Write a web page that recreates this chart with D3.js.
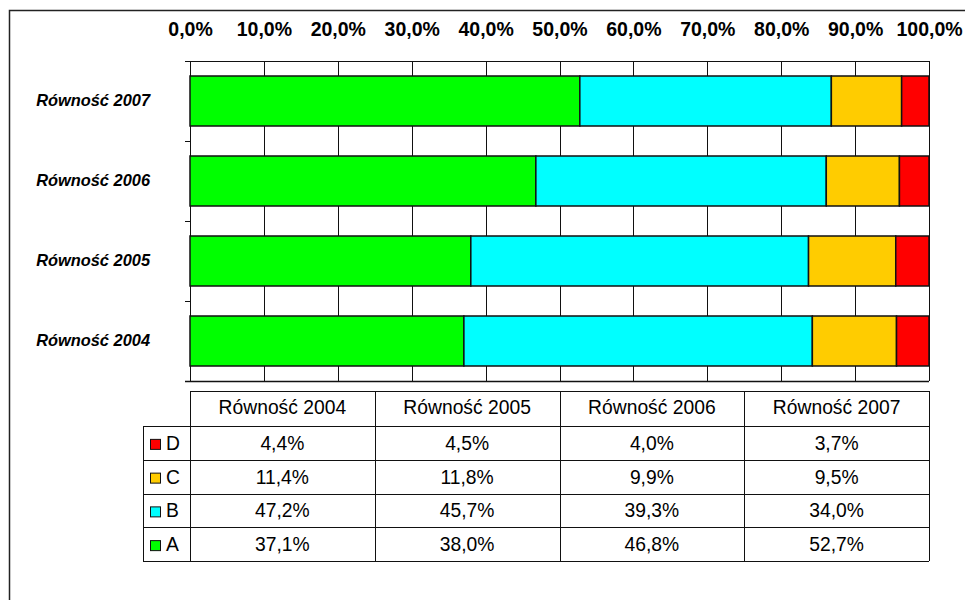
<!DOCTYPE html>
<html>
<head>
<meta charset="utf-8">
<script src="https://cdn.jsdelivr.net/npm/d3@7"></script>
<style>
  body { margin: 0; background: #fff; }
  svg text { font-family: "Liberation Sans", Arial, sans-serif; }
  .axis-top text { font-weight: bold; font-size: 19.5px; fill: #000; }
  .cat-label text { font-weight: bold; font-style: italic; font-size: 16.4px; fill: #000; }
  .table-text { font-size: 19.3px; fill: #000; }
</style>
</head>
<body>
<div class="chart-container"></div>
<script>
// data (percent)
const categories = ["Równość 2004", "Równość 2005", "Równość 2006", "Równość 2007"];
const seriesNames = ["A", "B", "C", "D"];
const seriesA = [37.1, 38.0, 46.8, 52.7];
const seriesB = [47.2, 45.7, 39.3, 34.0];
const seriesC = [11.4, 11.8, 9.9, 9.5];
const seriesD = [4.4, 4.5, 4.0, 3.7];
const colors = {A: "#00ff00", B: "#00ffff", C: "#ffcc00", D: "#ff0000"};
const xTicks = [0, 0.1, 0.2, 0.3, 0.4, 0.5, 0.6, 0.7, 0.8, 0.9, 1];

const rows = categories.map((c, i) => ({
  cat: c, A: seriesA[i], B: seriesB[i], C: seriesC[i], D: seriesD[i]
}));

const pl = d3.formatLocale({decimal: ",", thousands: " ", grouping: [3], currency: ["", " zł"]});
const fmtAxis = pl.format(".1%");
const fmtCell = v => pl.format(".1f")(v) + "%";

const W = 965, H = 600;
const plot = {left: 190, right: 929, top: 61, bottom: 381};
const table = {headTop: 391, headBottom: 426, bottom: 561, legendLeft: 143};

const svg = d3.select(".chart-container").append("svg")
    .attr("width", W)
    .attr("height", H);

// outer frame (runs off the right and bottom edge)
svg.append("rect")
    .attr("x", 9.5).attr("y", 10.5)
    .attr("width", 1000).attr("height", 1000)
    .attr("fill", "none")
    .attr("stroke", "#222")
    .attr("stroke-width", 1.5);

const x = d3.scaleLinear().domain([0, 1]).range([plot.left, plot.right]);
const y = d3.scaleBand()
    .domain(categories.slice().reverse())
    .range([plot.top, plot.bottom])
    .paddingInner(0.375)
    .paddingOuter(0.1875);

// vertical grid
svg.append("g")
  .selectAll("line")
  .data(xTicks)
  .enter().append("line")
    .attr("x1", d => Math.round(x(d)) + 0.5)
    .attr("x2", d => Math.round(x(d)) + 0.5)
    .attr("y1", plot.top)
    .attr("y2", plot.bottom)
    .attr("stroke", "#111")
    .attr("stroke-width", 1);

// top line / category separators with small ticks
const bounds = categories.map((c, i) => plot.top + i * y.step()).concat([plot.bottom]);
svg.append("g")
  .selectAll("line")
  .data(bounds)
  .enter().append("line")
    .attr("x1", plot.left - 5)
    .attr("x2", (d, i) => (i === 0 || i === bounds.length - 1) ? plot.right : plot.left)
    .attr("y1", d => Math.round(d) + 0.5)
    .attr("y2", d => Math.round(d) + 0.5)
    .attr("stroke", "#111")
    .attr("stroke-width", (d, i) => (i === bounds.length - 1) ? 1.5 : 1);

// 100% stacked bars
const stack = d3.stack().keys(seriesNames).offset(d3.stackOffsetExpand);
const layers = stack(rows);

svg.append("g")
  .selectAll("g")
  .data(layers)
  .enter().append("g")
    .attr("fill", d => colors[d.key])
  .selectAll("rect")
  .data(d => d)
  .enter().append("rect")
    .attr("x", d => x(d[0]))
    .attr("y", d => y(d.data.cat))
    .attr("width", d => x(d[1]) - x(d[0]))
    .attr("height", y.bandwidth())
    .attr("stroke", "#111")
    .attr("stroke-width", 1.5);

// top axis labels
const xAxis = svg.append("g")
    .attr("class", "axis-top")
    .attr("transform", "translate(0,36)")
    .call(d3.axisTop(x).tickValues(xTicks).tickFormat(fmtAxis).tickSize(0).tickPadding(0));
xAxis.select(".domain").remove();

// category labels
const yAxis = svg.append("g")
    .attr("class", "cat-label")
    .attr("transform", "translate(" + plot.left + ",0)")
    .call(d3.axisLeft(y).tickSize(0).tickPadding(40));
yAxis.select(".domain").remove();

// data table
const tx = d3.scaleBand().domain(categories).range([plot.left, plot.right]);
const tableRows = ["D", "C", "B", "A"];
const ty = d3.scaleBand().domain(tableRows).range([table.headBottom, table.bottom]);
const seriesValues = {A: seriesA, B: seriesB, C: seriesC, D: seriesD};

const tg = svg.append("g")
    .attr("stroke", "#111")
    .attr("stroke-width", 1)
    .attr("shape-rendering", "crispEdges");

// horizontal lines
tg.append("line")
    .attr("x1", plot.left).attr("x2", plot.right)
    .attr("y1", table.headTop + 0.5).attr("y2", table.headTop + 0.5);
tg.selectAll(".hrow")
  .data(tableRows.map(r => ty(r)).concat([table.bottom]))
  .enter().append("line")
    .attr("x1", table.legendLeft).attr("x2", plot.right)
    .attr("y1", d => Math.round(d) + 0.5)
    .attr("y2", d => Math.round(d) + 0.5);

// vertical lines
tg.append("line")
    .attr("x1", table.legendLeft + 0.5).attr("x2", table.legendLeft + 0.5)
    .attr("y1", table.headBottom).attr("y2", table.bottom);
tg.selectAll(".vcol")
  .data(categories.map(c => tx(c)).concat([plot.right]))
  .enter().append("line")
    .attr("x1", d => Math.round(d) + 0.5)
    .attr("x2", d => Math.round(d) + 0.5)
    .attr("y1", table.headTop)
    .attr("y2", table.bottom);

// header texts
svg.append("g")
  .selectAll("text")
  .data(categories)
  .enter().append("text")
    .attr("class", "table-text")
    .attr("x", d => tx(d) + tx.bandwidth() / 2)
    .attr("y", (table.headTop + table.headBottom) / 2 + 5.5)
    .attr("text-anchor", "middle")
    .text(d => d);

// legend keys
const lg = svg.append("g")
  .selectAll("g")
  .data(tableRows)
  .enter().append("g")
    .attr("transform", d => "translate(0," + (ty(d) + ty.bandwidth() / 2) + ")");
lg.append("rect")
    .attr("x", 150.5).attr("y", -3.5)
    .attr("width", 10).attr("height", 10)
    .attr("fill", d => colors[d])
    .attr("stroke", "#111")
    .attr("stroke-width", 1);
lg.append("text")
    .attr("class", "table-text")
    .attr("x", 166)
    .attr("y", 7)
    .text(d => d);

// cell values
tableRows.forEach(s => {
  svg.append("g")
    .selectAll("text")
    .data(categories)
    .enter().append("text")
      .attr("class", "table-text")
      .attr("x", d => tx(d) + tx.bandwidth() / 2)
      .attr("y", ty(s) + ty.bandwidth() / 2 + 7)
      .attr("text-anchor", "middle")
      .text((d, i) => fmtCell(seriesValues[s][i]));
});
</script>
</body>
</html>
